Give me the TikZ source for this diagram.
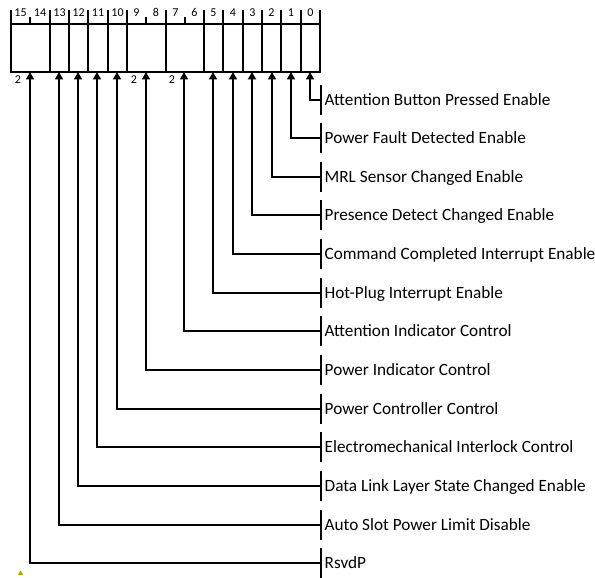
\documentclass[tikz,border=0pt]{standalone}
\usepackage{fontspec}
\setmainfont{Carlito}
\usetikzlibrary{arrows.meta}
\definecolor{markolive}{RGB}{165,165,0}
\tikzset{
  x=1pt, y=-1pt,
  regline/.style={line width=2pt},
  connector/.style={line width=2pt, -{Triangle[length=7.5pt,width=8pt]}},
  bitnum/.style={font=\fontsize{12}{13}\selectfont, anchor=base, inner sep=0pt},
  widthnum/.style={font=\fontsize{12}{13}\selectfont, anchor=base, inner sep=0pt},
  fieldlabel/.style={font=\fontsize{17.2}{19}\selectfont, anchor=base west, inner sep=0pt},
}
\begin{document}
\begin{tikzpicture}
\useasboundingbox (0,0) rectangle (595,578);
% register box: horizontal edges
\draw[regline] (10,24) -- (321,24);
\draw[regline] (10,72) -- (321,72);
% field boundaries with their ticks above the box
\foreach \x in {11,50,69,88,108,127,166,204,223,243,262,281,301,320}{
  \draw[regline] (\x,10) -- (\x,72);
}
% short ticks inside multi-bit fields
\foreach \x in {30,146,185}{
  \draw[regline] (\x,17) -- (\x,25);
}
% bit numbers
\foreach \b/\x in {15/20.5,14/40,13/59.5,12/78.5,11/98,10/117.5,9/136.5,8/156,7/175.5,6/194.5,5/213.5,4/233,3/252.5,2/271.5,1/291,0/310.5}{
  \node[bitnum] (n\b) at (\x,16.8) {\b};
}
% field bottoms
\coordinate (f0) at (310,72);
\coordinate (f1) at (291,72);
\coordinate (f2) at (272,72);
\coordinate (f3) at (252,72);
\coordinate (f4) at (233,72);
\coordinate (f5) at (213,72);
\coordinate (f6) at (184,72);
\coordinate (f7) at (146,72);
\coordinate (f8) at (117,72);
\coordinate (f9) at (97,72);
\coordinate (f10) at (78,72);
\coordinate (f11) at (59,72);
\coordinate (f12) at (30,72);
% width marks
\node[widthnum] (w12) at (18,84) {2};
\node[widthnum] (w7) at (134,84) {2};
\node[widthnum] (w6) at (172,84) {2};
% labels
\foreach \j/\yy/\t in {0/100/Attention Button Pressed Enable,
                   1/138/Power Fault Detected Enable,
                   2/177/MRL Sensor Changed Enable,
                   3/215/Presence Detect Changed Enable,
                   4/254/Command Completed Interrupt Enable,
                   5/293/Hot-Plug Interrupt Enable,
                   6/331/Attention Indicator Control,
                   7/370/Power Indicator Control,
                   8/409/Power Controller Control,
                   9/447/Electromechanical Interlock Control,
                   10/486/Data Link Layer State Changed Enable,
                   11/525/Auto Slot Power Limit Disable,
                   12/563/RsvdP}{
  \coordinate (b\j) at (321,\yy);
  \node[fieldlabel] (l\j) at (324.5,\yy+5.4) {\t};
  \draw[regline] (321,\yy-15) -- (321,\yy+15);
  \draw[connector] (b\j) -| (f\j);
}
% small marker
\fill[markolive] (18,575) -- (20.5,570.5) -- (23,575) -- cycle;
\end{tikzpicture}
\end{document}
